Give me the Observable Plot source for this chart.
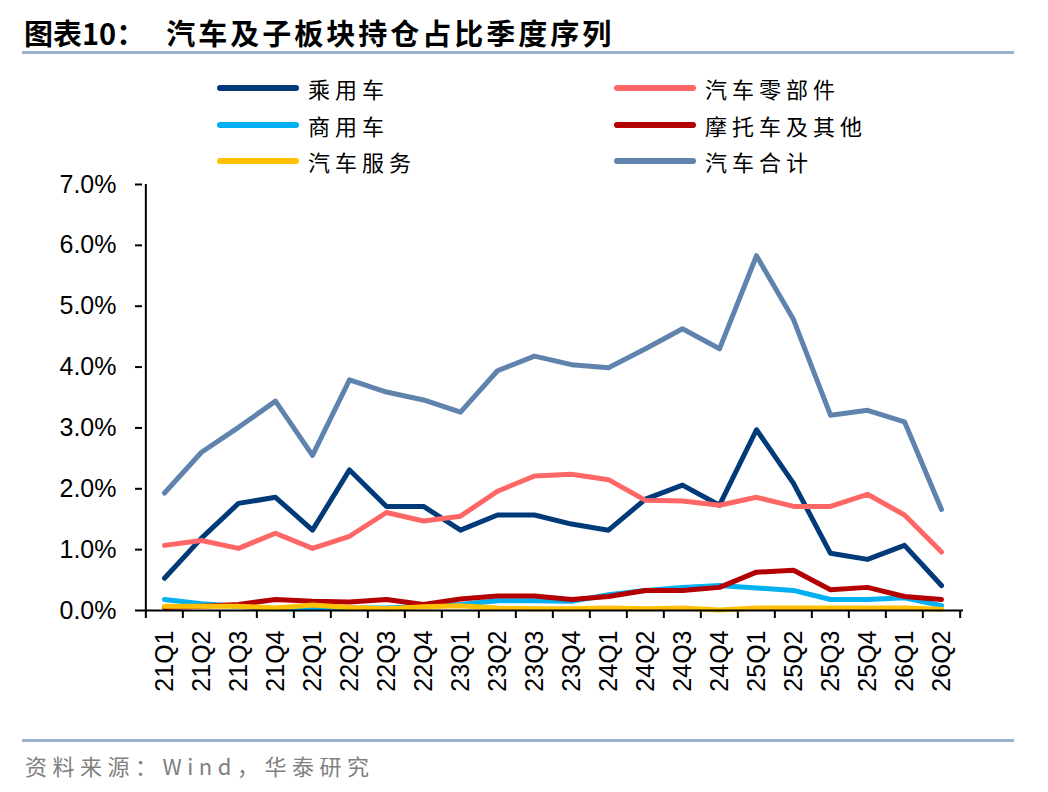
<!DOCTYPE html>
<html><head><meta charset="utf-8">
<script src="https://cdn.jsdelivr.net/npm/d3@7"></script>
<script src="https://cdn.jsdelivr.net/npm/@observablehq/plot@0.6"></script>
<style>
body{margin:0;background:#fff;}
#wrap{position:relative;width:1048px;height:792px;overflow:hidden;font-family:"Noto Sans CJK SC",sans-serif;background:#fff;}
#title{position:absolute;left:24px;top:12px;font-size:29px;font-weight:bold;color:#000;white-space:nowrap;line-height:40px;}
#title span{margin-left:21px;letter-spacing:3px;}
.rule{position:absolute;left:22px;width:992px;height:3px;background:#9cb2ca;}
#legend{position:absolute;left:0;top:0;width:1048px;height:180px;}
.lg{position:absolute;height:34px;display:flex;align-items:center;white-space:nowrap;}
.lg i{display:inline-block;width:82px;height:6px;border-radius:3px;margin-right:9px;}
.lg b{font-weight:normal;font-size:22px;letter-spacing:5px;color:#000;}
#chart{position:absolute;left:0;top:170px;}
#source{position:absolute;left:25px;top:749px;font-size:22px;color:#808080;letter-spacing:5.5px;white-space:nowrap;line-height:32px;}
</style></head><body>
<div id="wrap">
<div id="title">图表10：<span>汽车及子板块持仓占比季度序列</span></div>
<div class="rule" style="top:51px"></div>
<div id="legend"></div>
<div id="chart"></div>
<div class="rule" style="top:739px"></div>
<div id="source">资料来源：Wind，华泰研究</div>
</div>
<script>
const quarters = ["21Q1","21Q2","21Q3","21Q4","22Q1","22Q2","22Q3","22Q4","23Q1","23Q2","23Q3","23Q4","24Q1","24Q2","24Q3","24Q4","25Q1","25Q2","25Q3","25Q4","26Q1","26Q2"];
// values in percent
const passenger  = [0.53,1.19,1.76,1.86,1.32,2.31,1.71,1.71,1.32,1.57,1.57,1.42,1.32,1.83,2.06,1.73,2.97,2.09,0.94,0.84,1.07,0.41];
const parts      = [1.07,1.15,1.02,1.27,1.02,1.22,1.61,1.47,1.55,1.96,2.21,2.24,2.15,1.81,1.80,1.73,1.86,1.71,1.71,1.91,1.57,0.96];
const commercial = [0.18,0.11,0.07,0.03,0.03,0.04,0.04,0.07,0.10,0.16,0.16,0.15,0.26,0.33,0.38,0.41,0.37,0.33,0.18,0.18,0.21,0.08];
const moto       = [0.05,0.07,0.10,0.18,0.15,0.14,0.18,0.10,0.19,0.24,0.24,0.18,0.23,0.33,0.33,0.38,0.63,0.66,0.34,0.38,0.23,0.18];
const service    = [0.07,0.07,0.07,0.04,0.09,0.05,0.03,0.06,0.08,0.04,0.03,0.03,0.04,0.03,0.04,0.01,0.04,0.04,0.04,0.04,0.04,0.02];
const total      = [1.93,2.60,3.01,3.44,2.55,3.79,3.59,3.46,3.26,3.94,4.18,4.04,3.99,4.30,4.63,4.30,5.83,4.78,3.21,3.29,3.10,1.66];
const seriesNames = ["乘用车","汽车零部件","商用车","摩托车及其他","汽车服务","汽车合计"];
const seriesColors = ["#003a78","#ff6666","#00b0f0","#b40000","#ffc000","#5f83ad"];
const seriesValues = [passenger, parts, commercial, moto, service, total];
const yTicks = [0,0.01,0.02,0.03,0.04,0.05,0.06,0.07];

// legend (two columns, row-wise)
const legend = document.getElementById("legend");
seriesNames.forEach((name, i) => {
  const col = i % 2, row = Math.floor(i / 2);
  const el = document.createElement("div");
  el.className = "lg";
  el.style.left = (col === 0 ? 217 : 614) + "px";
  el.style.top = (71 + row * 36.7) + "px";
  el.innerHTML = `<i style="background:${seriesColors[i]}"></i><b>${name}</b>`;
  legend.appendChild(el);
});

const data = [];
seriesNames.forEach((s, i) => quarters.forEach((q, j) => data.push({s, q, v: seriesValues[i][j] / 100})));

const W = 1048, ML = 142, MR = 85;
const step = (W - ML - MR) / quarters.length;

const chart = Plot.plot({
  width: W, height: 550,
  marginTop: 14, marginBottom: 110, marginLeft: ML, marginRight: MR,
  x: {type: "point", domain: quarters, padding: 0.5},
  y: {domain: [0, 0.07]},
  color: {domain: seriesNames, range: seriesColors},
  style: {fontFamily: "'Liberation Sans', Arial, sans-serif", fontSize: "25px", color: "#000", background: "transparent"},
  marks: [
    Plot.axisY({ticks: yTicks, tickFormat: d => (d * 100).toFixed(1) + "%", tickSize: 7, tickPadding: 19, strokeWidth: 2, fontSize: 25, label: null}),
    Plot.axisX({tickSize: 0, tickRotate: -90, tickPadding: 20, fontSize: 25, label: null}),
    Plot.axisX({tickSize: 8, tickFormat: () => "", dx: -step / 2, strokeWidth: 2, label: null}),
    Plot.axisX({ticks: [quarters[quarters.length - 1]], tickSize: 8, tickFormat: () => "", dx: step / 2, strokeWidth: 2, label: null}),
    Plot.line(data, {x: "q", y: "v", z: "s", stroke: "s", strokeWidth: 5, strokeLinecap: "round", strokeLinejoin: "round"}),
    Plot.ruleX([quarters[0]], {y1: 0, y2: 0.07, dx: -step / 2, stroke: "#000", strokeWidth: 2}),
    Plot.ruleY([0], {stroke: "#000", strokeWidth: 2})
  ]
});
document.getElementById("chart").appendChild(chart);
</script>
</body></html>
